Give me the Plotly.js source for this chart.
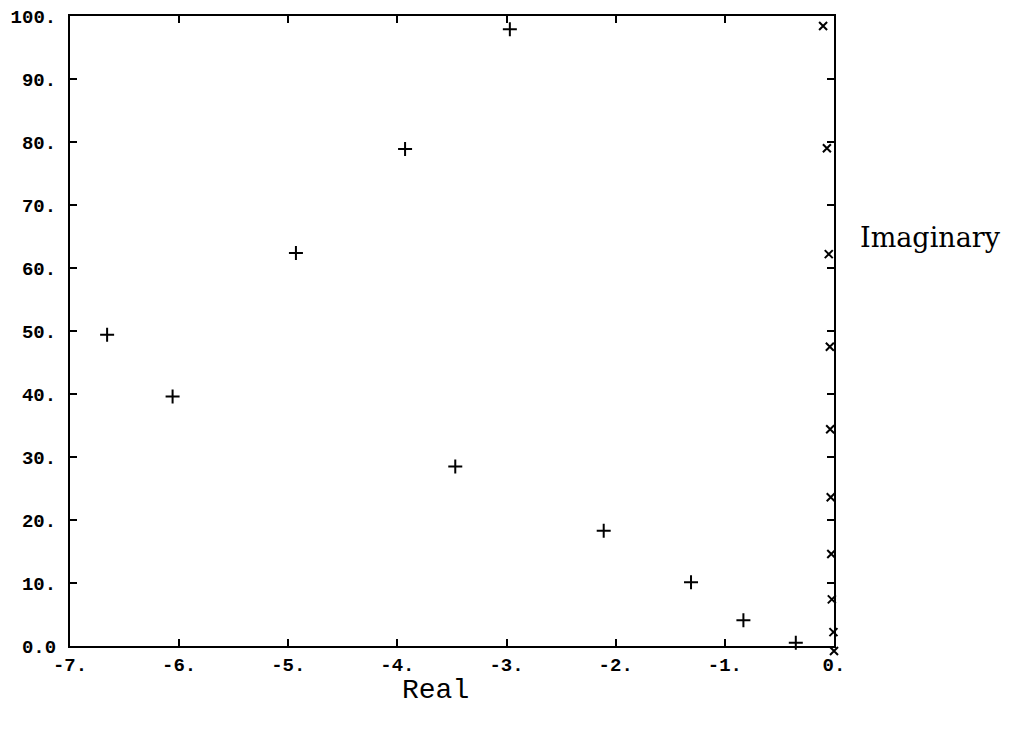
<!DOCTYPE html>
<html>
<head>
<meta charset="utf-8">
<script src="https://cdn.plot.ly/plotly-3.0.1.min.js"></script>
<style>
  html, body { margin: 0; padding: 0; background: #fff; }
  #chart { width: 1032px; height: 732px; }
</style>
</head>
<body>
<div id="chart"></div>
<script>
// "+" markers (real, imaginary)
var plusReal = [-6.66, -6.06, -4.93, -3.93, -2.97, -3.47, -2.11, -1.31, -0.83, -0.35];
var plusImag = [49.4, 39.6, 62.4, 78.9, 97.9, 28.5, 18.3, 10.1, 4.1, 0.5];
// "x" markers (real, imaginary)
var crossReal = [-0.10, -0.065, -0.048, -0.038, -0.035, -0.03, -0.025, -0.02, -0.005, 0.0];
var crossImag = [98.4, 79.0, 62.2, 47.5, 34.4, 23.6, 14.6, 7.4, 2.2, -0.8];
// tick values and labels
var xTickVals = [-7, -6, -5, -4, -3, -2, -1, 0];
var xTickText = ['-7.', '-6.', '-5.', '-4.', '-3.', '-2.', '-1.', '0.'];
var yTickVals = [0, 10, 20, 30, 40, 50, 60, 70, 80, 90, 100];
var yTickText = ['0.0', '10.', '20.', '30.', '40.', '50.', '60.', '70.', '80.', '90.', '100.'];

var tickFont = {family: 'Liberation Mono, DejaVu Sans Mono, monospace', size: 19, color: '#000', weight: 'bold'};

// plot box geometry (pixels)
var plotH = 640;          // full plot area height (margin t=16, b=76)
var yAxisPx = 630;        // visible y axis length (0..100)
var extraPx = plotH - yAxisPx;
var yMin2 = -extraPx * 100 / yAxisPx; // hidden axis lower bound with same scale

var traces = [
  {
    x: plusReal, y: plusImag, type: 'scatter', mode: 'markers', cliponaxis: false,
    marker: {symbol: 'cross-thin-open', size: 10, color: '#000', line: {color: '#000', width: 2}},
    showlegend: false, hoverinfo: 'skip'
  },
  {
    x: crossReal, y: crossImag, type: 'scatter', mode: 'markers', cliponaxis: false, yaxis: 'y2',
    marker: {symbol: 'x-thin-open', size: 8, color: '#000', line: {color: '#000', width: 2}},
    showlegend: false, hoverinfo: 'skip'
  }
];

var layout = {
  width: 1032, height: 732,
  paper_bgcolor: '#fff', plot_bgcolor: 'rgba(0,0,0,0)',
  margin: {l: 70, r: 198, t: 16, b: 76},
  showlegend: false,
  xaxis: {
    range: [-7, 0], tickvals: xTickVals, ticktext: xTickText, anchor: 'y',
    showgrid: false, zeroline: false,
    showline: true, linecolor: '#000', linewidth: 2, mirror: 'ticks',
    ticks: 'inside', ticklen: 7, tickwidth: 2, tickcolor: '#000',
    tickfont: tickFont, ticklabelstandoff: 0
  },
  yaxis: {
    range: [0, 100], domain: [extraPx / plotH, 1], tickvals: yTickVals, ticktext: yTickText,
    showgrid: false, zeroline: false,
    showline: true, linecolor: '#000', linewidth: 2, mirror: 'ticks',
    ticks: 'inside', ticklen: 7, tickwidth: 2, tickcolor: '#000',
    tickfont: tickFont, ticklabelstandoff: 8
  },
  yaxis2: {
    range: [yMin2, 100], domain: [0, 1], anchor: 'x', visible: false,
    showgrid: false, zeroline: false
  },
  annotations: [
    {
      text: 'Real', xref: 'paper', yref: 'paper', x: (435 - 70) / 764, y: (656 - 673) / plotH,
      xanchor: 'center', yanchor: 'top', showarrow: false,
      font: {family: 'Liberation Mono, Courier New, monospace', size: 28, color: '#000'}
    },
    {
      text: 'Imaginary', xref: 'paper', yref: 'paper', x: (858 - 70) / 764, y: (656 - 237) / plotH,
      xanchor: 'left', yanchor: 'middle', showarrow: false,
      font: {family: 'DejaVu Serif, Liberation Serif, serif', size: 27, color: '#000'}
    }
  ]
};

Plotly.newPlot('chart', traces, layout, {staticPlot: true, displayModeBar: false});
</script>
</body>
</html>
